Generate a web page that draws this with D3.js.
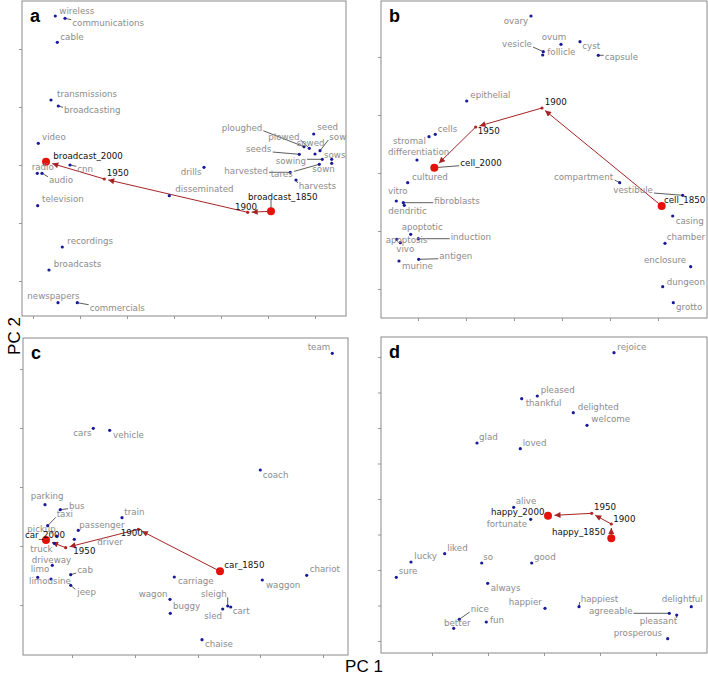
<!DOCTYPE html>
<html><head><meta charset="utf-8">
<script src="https://cdn.jsdelivr.net/npm/d3@7"></script>
<style>body{margin:0;background:#fff}svg{display:block}</style>
</head><body><svg id="chart" width="708" height="679"></svg>
<script>
// ---------- DATA (PC1 / PC2 projections, arbitrary units) ----------
// Panel a: broadcast
const aWords = ["wireless","communications","cable","transmissions","broadcasting","video","radio","audio","cnn","disseminated","drills","television","recordings","broadcasts","newspapers","commercials","seed","ploughed","plowed","sowed","sow","seeds","sowing","sows","sown","tares","harvested","harvests"];
const aPC1 = [33.3,43,35.3,29,36.3,16.3,15.3,20,48,147.3,182,15.7,40.3,27,36,55.3,291.7,282,287.3,293,298,277.3,300.3,309.7,309.7,297.3,268.3,274];
const aPC2 = [300,297.7,273.7,216,210,172.7,142.7,142.7,151,120.3,148.7,110.3,69,46,13.3,13.3,182,169.3,167.7,162,165.3,161.7,156.7,156.7,152.7,151.7,143.7,136];
const aTraj = ["broadcast_1850","1900","1950","broadcast_2000"];
const aTrajPC1 = [249,225.7,82.3,24];
const aTrajPC2 = [104.7,103.7,137,154.3];
const aXTicks = [11,58,105,152,199,246,293];
const aYTicks = [35,93,151,209,267];

// Panel b: cell
const bWords = ["ovary","vesicle","follicle","ovum","cyst","capsule","epithelial","cells","stromal","differentiation","cultured","vitro","dendritic","fibroblasts","apoptotic","apoptosis","vivo","induction","antigen","murine","compartment","vestibule","casing","chamber","enclosure","dungeon","grotto"];
const bPC1 = [150,162.3,161.7,180,199,217.3,85.7,54.3,48,36,26.7,15.3,23.3,22.3,29.7,19.3,15.7,37.3,37.7,18,238.7,301.7,291.7,284,309.7,281.7,292.3];
const bPC2 = [302,266.3,263,273.7,276.3,262.7,217,183.7,181.3,158,135.3,117,112.7,115.3,83.7,75.3,78.7,79.3,58.7,57,135.3,122.7,102,74.7,51.3,31.3,15.3];
const bTraj = ["cell_1850","1900","1950","cell_2000"];
const bTrajPC1 = [280.7,161,94.7,53.3];
const bTrajPC2 = [112,210,191,150.3];
const bXTicks = [37,85,133,181,229,277];
const bYTicks = [29,87,145,203,261];

// Panel c: car
const cWords = ["team","cars","vehicle","coach","parking","bus","taxi","pickup","train","passenger","driver","truck","driveway","limo","limousine","cab","jeep","wagon","buggy","carriage","waggon","chariot","sleigh","cart","sled","chaise"];
const cPC1 = [309.3,70.3,86.7,237.3,22,37.3,24.7,33.7,99,55.3,51.3,31.3,29.3,14.7,28,47.7,47.7,147,147.3,151.3,239.3,283.7,204.7,207.7,199.7,179];
const cPC2 = [301.7,226.7,224.7,185,150.3,145.3,129.3,119,137.3,124.7,115.7,111.7,89.7,77.7,76,80.3,69.7,55.7,41.7,78,75,79.7,49,48,46,15.3];
const cTraj = ["car_1850","1900","1950","car_2000"];
const cTrajPC1 = [197,115.3,42.7,23];
const cTrajPC2 = [83.7,125.7,107.3,115];
const cXTicks = [49,112,175,237,300];
const cYTicks = [50,109,168,227,286];

// Panel d: happy
const dWords = ["rejoice","pleased","thankful","delighted","welcome","glad","loved","alive","fortunate","liked","lucky","sure","so","good","always","happier","happiest","agreeable","pleasant","delightful","prosperous","nice","better","fun"];
const dPC1 = [233,156.3,140.7,192.3,206,96,139.3,132.7,149.7,63.7,30,15.3,100.7,150.7,106.7,164,198,288.3,295.7,310.3,286.7,78.3,72.7,105.3];
const dPC2 = [300.3,257,254.3,240.3,227.7,210,204.3,145.7,133.7,99.3,91,75.7,90,90,69.7,44.7,46.3,39.7,38,46.3,14.3,33.7,24.7,31];
const dTraj = ["happy_1850","1900","1950","happy_2000"];
const dTrajPC1 = [230.3,230.3,210.7,167];
const dTrajPC2 = [114.7,129,139.7,137.3];
const dXTicks = [51,107,163,219,275];
const dYTicks = [12,47.5,83,118.5,154,189.5,225,260.5,296];

// ---------- LAYOUT (label placement offsets in px, leader lines) ----------
const labelOffsets = {
  a: {wireless:[4,-5.3],communications:[7.3,4.4],cable:[3,-5.6],transmissions:[6,-5.7],broadcasting:[5.7,4.3],video:[3.7,-6.3],radio:[-5.6,-6],audio:[7,6.4],cnn:[7.3,4.3],disseminated:[6,-6.4],drills:[-23.3,4.4],television:[4.3,-6.4],recordings:[5,-6],broadcasts:[4.7,-5.7],newspapers:[-30.7,-6.7],commercials:[12.4,5],seed:[3.6,-7.3],ploughed:[-82.3,-19],plowed:[-41,-11.3],sowed:[-18.3,-10.7],sow:[9.3,-13.7],seeds:[-53.3,-5.3],sowing:[-46.6,1.7],sows:[-7.7,-4],sown:[-19.4,6],tares:[-48.6,10],harvested:[-66,-1.6],harvests:[2.7,6],
      broadcast_1850:[-23,-14.6],"1900":[-12.7,-5.6],"1950":[2.4,-6.3],broadcast_2000:[7.3,-5.7]},
  b: {ovary:[-27.3,5],vesicle:[-41.3,-7.7],follicle:[4.6,-3],ovum:[-19.3,-7],cyst:[2.3,4.3],capsule:[6.4,1.4],epithelial:[3.6,-6],cells:[2.4,-5.6],stromal:[-36,4.6],differentiation:[-29,-8],cultured:[4.3,-6],vitro:[-8.3,-9.7],dendritic:[-16,5.7],fibroblasts:[31,-2],apoptotic:[-9,-7.6],apoptosis:[-14.6,-2.7],vivo:[-0.4,10],induction:[32.4,-1.7],antigen:[20.6,-3.6],murine:[3,5],compartment:[-65.7,-5.7],vestibule:[-69.4,-5.3],casing:[3,4.7],chamber:[1.7,-6.3],enclosure:[-46.7,-6.4],dungeon:[4,-5],grotto:[2.7,4],
      cell_1850:[2.3,-5.7],"1900":[2.7,-6.3],"1950":[2,4.3],cell_2000:[26,-5]},
  c: {team:[-24.6,-6],cars:[-20,4.4],vehicle:[3.3,5],coach:[2.4,4.7],parking:[-14.3,-9],bus:[8.7,-4],taxi:[9,-11.4],pickup:[-29.4,-6.7],train:[2.3,-6],passenger:[1,-5.3],driver:[23,2.7],truck:[-24,5.4],driveway:[-20.6,-5.6],limo:[-7,-8],limousine:[-22,1.7],cab:[6.6,-4.7],jeep:[6.6,7],wagon:[-31.3,-5.3],buggy:[2.7,-7.3],carriage:[3.7,4.3],waggon:[3.7,5.3],chariot:[3,-6],sleigh:[-26.7,-11.7],cart:[2,4],sled:[-18.4,6.7],chaise:[3,4.3],
      car_1850:[4.3,-6],"1900":[-17.6,3.4],"1950":[7.6,3],car_2000:[-21,-5.3]},
  d: {rejoice:[3.3,-6],pleased:[3.4,-5.7],thankful:[4,4.6],delighted:[4.4,-6],welcome:[4.3,-6],glad:[2,-6],loved:[2.4,-6],alive:[2,-6.3],fortunate:[-44,4.4],liked:[2.6,-6],lucky:[3.3,-5.7],sure:[2.4,-6.3],so:[1.6,-6],good:[2.3,-6],always:[3,4.4],happier:[-36.3,-6],happiest:[1.7,-7.7],agreeable:[-80.3,-2.6],pleasant:[-37,6],delightful:[-29.6,-7.7],prosperous:[-54,-5.4],nice:[11.4,-10.3],better:[-9.7,-5.6],fun:[3.7,-2.3],
      happy_1850:[-59.3,-6],"1900":[2,-5.3],"1950":[2.3,-6],happy_2000:[-57,-4]}
};
const leaders = {
  a: ["communications","broadcasting","audio","cnn","commercials","ploughed","plowed","sow","seeds","sowing","harvested","tares","harvests","broadcast_1850"],
  b: ["vesicle","fibroblasts","induction","antigen","compartment","vestibule","cell_2000","capsule"],
  c: ["bus","taxi","sleigh","jeep","cab"],
  d: ["agreeable","pleasant","nice","happiest"]
};

const panels = [
  {key:"a", box:[22,1,346,316], words:aWords, pc1:aPC1, pc2:aPC2, traj:aTraj, tx:aTrajPC1, ty:aTrajPC2, xt:aXTicks, yt:aYTicks},
  {key:"b", box:[381,1,707,318], words:bWords, pc1:bPC1, pc2:bPC2, traj:bTraj, tx:bTrajPC1, ty:bTrajPC2, xt:bXTicks, yt:bYTicks},
  {key:"c", box:[23,338,348,655], words:cWords, pc1:cPC1, pc2:cPC2, traj:cTraj, tx:cTrajPC1, ty:cTrajPC2, xt:cXTicks, yt:cYTicks},
  {key:"d", box:[381,337,707,653], words:dWords, pc1:dPC1, pc2:dPC2, traj:dTraj, tx:dTrajPC1, ty:dTrajPC2, xt:dXTicks, yt:dYTicks}
];

const svg = d3.select("#chart");
const arrowColor = "#a52424";
svg.append("defs").append("marker")
  .attr("id","ah").attr("viewBox","0 0 10 10").attr("refX",10).attr("refY",5)
  .attr("markerUnits","userSpaceOnUse").attr("markerWidth",7).attr("markerHeight",6)
  .attr("orient","auto")
  .append("path").attr("d","M0,0 L10,5 L0,10 z").attr("fill",arrowColor);

panels.forEach(p => {
  const [L,T,R,B] = p.box;
  const x = d3.scaleLinear().domain([0, R-L]).range([L, R]);
  const y = d3.scaleLinear().domain([0, B-T]).range([B, T]);
  const g = svg.append("g");

  // ticks
  g.append("g").attr("transform",`translate(0,${B})`)
    .call(d3.axisBottom(x).tickValues(p.xt).tickFormat("").tickSize(3).tickSizeOuter(0))
    .call(s => { s.select(".domain").remove(); s.selectAll("line").attr("stroke","#999"); });
  g.append("g").attr("transform",`translate(${L},0)`)
    .call(d3.axisLeft(y).tickValues(p.yt).tickFormat("").tickSize(3).tickSizeOuter(0))
    .call(s => { s.select(".domain").remove(); s.selectAll("line").attr("stroke","#999"); });

  // frame
  g.append("rect").attr("x",L).attr("y",T).attr("width",R-L).attr("height",B-T)
    .attr("fill","none").attr("stroke","#8a8a8a").attr("stroke-width",1);

  const pts = p.words.map((w,i)=>({w, px:x(p.pc1[i]), py:y(p.pc2[i]), focus:false, big:false}));
  const tpts = p.traj.map((w,i)=>({w, px:x(p.tx[i]), py:y(p.ty[i]), focus:true, big:(i===0||i===p.traj.length-1)}));
  const all = pts.concat(tpts);

  const leaderG = g.append("g");
  const arrowG = g.append("g");
  const dotG = g.append("g");
  const labG = g.append("g");

  // trajectory arrows
  for (let i=0;i<tpts.length-1;i++){
    const a=tpts[i], b=tpts[i+1];
    const dx=b.px-a.px, dy=b.py-a.py, len=Math.hypot(dx,dy);
    const gap = (b.big?4:1.5)+2.5;
    const start = a.big?3:0;
    arrowG.append("line")
      .attr("x1",a.px+dx/len*start).attr("y1",a.py+dy/len*start)
      .attr("x2",b.px-dx/len*gap).attr("y2",b.py-dy/len*gap)
      .attr("stroke",arrowColor).attr("stroke-width",1).attr("marker-end","url(#ah)");
  }

  // dots
  dotG.selectAll("circle.n").data(pts).join("circle")
    .attr("cx",d=>d.px).attr("cy",d=>d.py).attr("r",1.6).attr("fill","#1a1a99");
  dotG.selectAll("circle.t").data(tpts).join("circle")
    .attr("cx",d=>d.px).attr("cy",d=>d.py).attr("r",d=>d.big?4:1.6)
    .attr("fill",d=>d.big?"#e3120b":"#b22222");

  // labels
  const offs = labelOffsets[p.key];
  all.forEach(d=>{
    const o = offs[d.w] || [3,-6];
    const t = labG.append("text")
      .attr("x",d.px+o[0]).attr("y",d.py+o[1]).attr("dy","0.35em")
      .attr("font-family","'DejaVu Sans', Verdana, sans-serif")
      .attr("font-size","8.7px")
      .attr("fill", d.focus ? "#111" : "#8c8c8c")
      .text(d.w);
    if (leaders[p.key].includes(d.w)) {
      const bb = t.node().getBBox();
      const y0 = bb.y+2, y1 = bb.y+bb.height-2;
      const cx = Math.max(bb.x-1, Math.min(d.px, bb.x+bb.width+1));
      const cy = Math.max(y0, Math.min(d.py, y1));
      leaderG.append("line").attr("x1",d.px).attr("y1",d.py).attr("x2",cx).attr("y2",cy)
        .attr("stroke","#333").attr("stroke-width",0.8);
    }
  });

  // panel letter
  g.append("text").attr("x",L+8).attr("y",T+21)
    .attr("font-family","'Liberation Sans', Arial, sans-serif").attr("font-weight","bold")
    .attr("font-size","18px").attr("fill","#000").text(p.key);
});

// axis titles
svg.append("text").attr("x",364).attr("y",672).attr("text-anchor","middle")
  .attr("font-family","'Liberation Sans', Arial, sans-serif").attr("font-size","17px").text("PC 1");
svg.append("text").attr("transform","translate(20,336) rotate(-90)").attr("text-anchor","middle")
  .attr("font-family","'Liberation Sans', Arial, sans-serif").attr("font-size","17px").text("PC 2");
</script></body></html>
